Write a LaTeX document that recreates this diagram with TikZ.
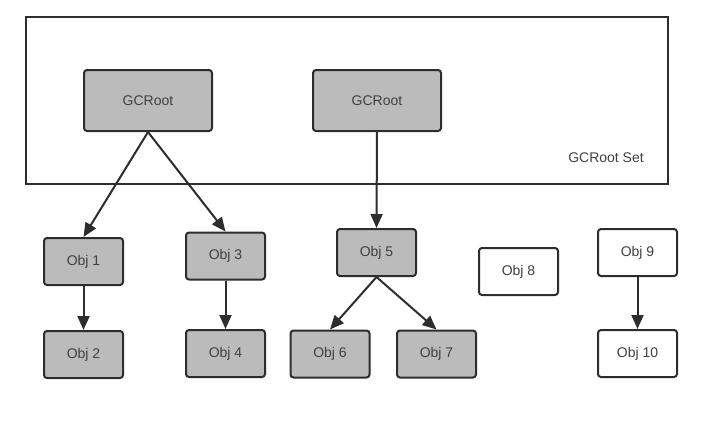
\documentclass[tikz,border=0pt]{standalone}
\usepackage{fontspec}
\setmainfont{Liberation Sans}
\usetikzlibrary{arrows.meta,positioning}
\definecolor{objfill}{RGB}{187,187,187}
\definecolor{linecol}{RGB}{45,45,45}
\definecolor{txtcol}{RGB}{64,64,64}
\tikzset{
  obj/.style     ={rectangle, rounded corners=3pt, draw=linecol, line width=2pt,
                   align=center, minimum width=79pt, minimum height=47pt,
                   text=txtcol, font=\fontsize{14}{16}\selectfont, inner sep=0pt},
  live/.style    ={obj, fill=objfill},
  dead/.style    ={obj, fill=white},
  root/.style    ={live, minimum width=128pt, minimum height=61pt},
  rootset/.style ={rectangle, draw=linecol, line width=2pt,
                   minimum width=642pt, minimum height=167pt, inner sep=0pt},
  ref/.style     ={-{Triangle[length=14pt,width=12pt]}, line width=2pt, draw=linecol},
  lbl/.style     ={text=txtcol, font=\fontsize{14}{16}\selectfont, inner sep=0pt},
}

\begin{document}
\begin{tikzpicture}[x=1pt, y=-1pt, node distance=50pt]
    \useasboundingbox (0,0) rectangle (726,421);

    % root set
    \node[rootset] (set) at (347,100.5) {};
    \node[lbl] (setlbl) at (606,158) {GCRoot Set};
    \node[root] (gc1) at (148,100.5) {GCRoot};
    \node[root] (gc2) at (377,100.5) {GCRoot};

    % objects
    \node[live] (o1) at (83.5,261.5) {Obj 1};
    \node[live, below=44pt of o1] (o2) {Obj 2};
    \node[live] (o3) at (225.5,256) {Obj 3};
    \node[live] (o4) at (225.5,353.5) {Obj 4};
    \node[live] (o5) at (376.5,252.5) {Obj 5};
    \node[live] (o6) at (330,354) {Obj 6};
    \node[live] (o7) at (436.5,354) {Obj 7};
    \node[dead] (o8) at (518.5,271.5) {Obj 8};
    \node[dead] (o9) at (637.5,252.5) {Obj 9};
    \node[dead, below=52pt of o9] (o10) {Obj 10};

    \draw[ref] (gc1.south) -- (o1.north);
    \draw[ref] (gc1.south) -- (o3.north);
    \draw[ref] (gc2.south) -- (o5.north);
    \draw[ref] (o1) -- (o2);
    \draw[ref] (o3) -- (o4);
    \draw[ref] (o5.south) -- (o6.north);
    \draw[ref] (o5.south) -- (o7.north);
    \draw[ref] (o9) -- (o10);
  \end{tikzpicture}
\end{document}
